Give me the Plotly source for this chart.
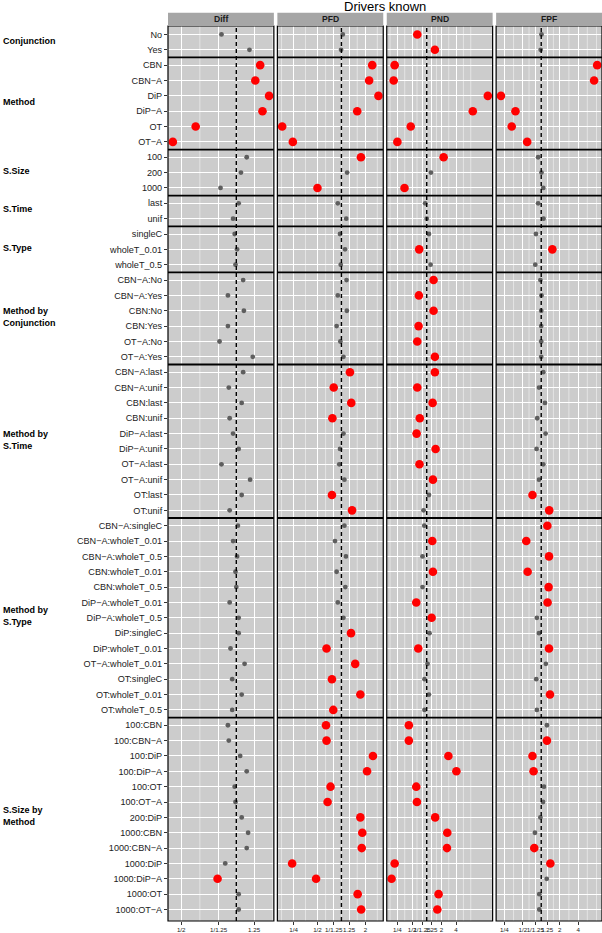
import math
import plotly.graph_objects as go
from plotly.subplots import make_subplots

title = "Drivers known"
panels = ["Diff", "PFD", "PND", "FPF"]

row_labels = [
    "No", "Yes",
    "CBN", "CBN−A", "DiP", "DiP−A", "OT", "OT−A",
    "100", "200", "1000",
    "last", "unif",
    "singleC", "wholeT_0.01", "wholeT_0.5",
    "CBN−A:No", "CBN−A:Yes", "CBN:No", "CBN:Yes", "OT−A:No", "OT−A:Yes",
    "CBN−A:last", "CBN−A:unif", "CBN:last", "CBN:unif", "DiP−A:last", "DiP−A:unif",
    "OT−A:last", "OT−A:unif", "OT:last", "OT:unif",
    "CBN−A:singleC", "CBN−A:wholeT_0.01", "CBN−A:wholeT_0.5", "CBN:wholeT_0.01",
    "CBN:wholeT_0.5", "DiP−A:wholeT_0.01", "DiP−A:wholeT_0.5", "DiP:singleC",
    "DiP:wholeT_0.01", "OT−A:wholeT_0.01", "OT:singleC", "OT:wholeT_0.01", "OT:wholeT_0.5",
    "100:CBN", "100:CBN−A", "100:DiP", "100:DiP−A", "100:OT", "100:OT−A", "200:DiP",
    "1000:CBN", "1000:CBN−A", "1000:DiP", "1000:DiP−A", "1000:OT", "1000:OT−A",
]

group_names = ["Conjunction", "Method", "S.Size", "S.Time", "S.Type",
               "Method by<br>Conjunction", "Method by<br>S.Time",
               "Method by<br>S.Type", "S.Size by<br>Method"]
group_sizes = [2, 6, 3, 2, 3, 6, 10, 13, 13]

diff_vals = [0.83, 1.18, 1.35, 1.27, 1.51, 1.39, 0.60, 0.45, 1.14, 1.06, 0.82,
             1.03, 0.96, 0.98, 1.01, 0.99,
             1.09, 0.90, 1.10, 0.90, 0.81, 1.23,
             1.09, 0.91, 1.07, 0.92, 0.96, 1.03, 0.83, 1.19, 1.07, 0.92,
             1.02, 0.96, 1.01, 0.99, 1.00, 0.92, 1.03, 1.03, 0.93, 1.11, 0.95, 1.07, 0.95,
             0.90, 0.91, 1.05, 1.14, 0.98, 0.99, 1.07, 1.16, 1.14, 0.87, 0.79, 1.03, 1.03]
diff_sig = [0, 0, 1, 1, 1, 1, 1, 1, 0, 0, 0,
            0, 0, 0, 0, 0,
            0, 0, 0, 0, 0, 0,
            0, 0, 0, 0, 0, 0, 0, 0, 0, 0,
            0, 0, 0, 0, 0, 0, 0, 0, 0, 0, 0, 0, 0,
            0, 0, 0, 0, 0, 0, 0, 0, 0, 0, 1, 0, 0]

pfd_vals = [1.04, 0.99, 2.44, 2.23, 2.92, 1.58, 0.18, 0.245, 1.76, 1.18, 0.50,
            0.90, 1.15, 0.96, 1.11, 0.98,
            1.16, 0.90, 1.17, 0.87, 0.97, 1.06,
            1.28, 0.80, 1.33, 0.77, 1.06, 0.96, 0.94, 1.09, 0.76, 1.36,
            1.09, 0.83, 1.14, 0.87, 1.12, 0.90, 1.06, 1.32, 0.65, 1.49, 0.76, 1.73, 0.79,
            0.64, 0.65, 2.49, 2.10, 0.73, 0.67, 1.73, 1.83, 1.80, 0.24, 0.48, 1.60, 1.77]
pfd_sig = [0, 0, 1, 1, 1, 1, 1, 1, 1, 0, 1,
           0, 0, 0, 0, 0,
           0, 0, 0, 0, 0, 0,
           1, 1, 1, 1, 0, 0, 0, 0, 1, 1,
           0, 0, 0, 0, 0, 0, 0, 1, 1, 1, 1, 1, 1,
           1, 1, 1, 1, 1, 1, 1, 1, 1, 1, 1, 1, 1]

pnd_vals = [0.64, 1.47, 0.22, 0.21, 17.9, 8.8, 0.47, 0.25, 2.22, 1.22, 0.35,
            0.93, 1.00, 1.11, 0.70, 1.20,
            1.38, 0.69, 1.38, 0.68, 0.64, 1.47,
            1.47, 0.64, 1.32, 0.72, 0.62, 1.52, 0.71, 1.34, 1.11, 0.86,
            0.89, 1.30, 0.82, 1.34, 0.82, 0.61, 1.26, 1.14, 0.67, 1.04, 0.90, 1.11, 0.90,
            0.43, 0.43, 2.78, 4.06, 0.61, 0.63, 1.49, 2.64, 2.60, 0.22, 0.19, 1.75, 1.65]
pnd_sig = [1, 1, 1, 1, 1, 1, 1, 1, 1, 0, 1,
           0, 0, 0, 1, 0,
           1, 1, 1, 1, 1, 1,
           1, 1, 1, 1, 1, 1, 1, 1, 0, 0,
           0, 1, 0, 1, 0, 1, 1, 0, 1, 0, 0, 0, 0,
           1, 1, 1, 1, 1, 1, 1, 1, 1, 1, 1, 1, 1]

fpf_vals = [1.01, 0.98, 8.2, 7.3, 0.22, 0.38, 0.33, 0.59, 0.89, 1.01, 1.08,
            0.89, 1.09, 0.82, 1.52, 0.80,
            0.97, 1.01, 1.00, 1.00, 1.00, 1.00,
            1.08, 0.92, 1.15, 0.86, 1.18, 0.84, 1.08, 0.92, 0.72, 1.35,
            1.26, 0.57, 1.34, 0.60, 1.32, 1.27, 0.85, 0.92, 1.34, 1.19, 0.83, 1.39, 0.85,
            1.24, 1.24, 0.72, 0.75, 1.11, 1.07, 0.97, 0.79, 0.77, 1.41, 1.23, 0.93, 0.93]
fpf_sig = [0, 0, 1, 1, 1, 1, 1, 1, 0, 0, 0,
           0, 0, 0, 1, 0,
           0, 0, 0, 0, 0, 0,
           0, 0, 0, 0, 0, 0, 0, 0, 1, 1,
           1, 1, 1, 1, 1, 1, 0, 0, 1, 0, 0, 1, 0,
           0, 1, 1, 1, 0, 0, 0, 0, 1, 1, 0, 0, 0]

tick_vals = [0.25, 0.5, 0.8, 1.25, 2, 4]
tick_text = ["1/4", "1/2", "1/1.25", "1.25", "2", "4"]

series = [(diff_vals, diff_sig), (pfd_vals, pfd_sig), (pnd_vals, pnd_sig), (fpf_vals, fpf_sig)]

# ---- layout geometry ----
W, H = 602, 933
ML, MR, MT, MB = 168, 0, 26, 12
PW = W - ML - MR
PH = H - MT - MB
GAP = 3.5
panel_w = (PW - 3 * GAP) / 4
FONT = "Liberation Sans, Arial, Helvetica, sans-serif"
PANEL_BG = "#cccccc"
STRIP_BG = "#a6a6a6"

fig = make_subplots(rows=1, cols=4, shared_yaxes=True, horizontal_spacing=0.01)


def axis_range(vals):
    lo = math.log10(min(vals))
    hi = math.log10(max(vals))
    pad = 0.05 * (hi - lo)
    return lo - pad, hi + pad


def minor_vals(lo, hi):
    b = [math.log10(v) for v in tick_vals if lo <= math.log10(v) <= hi]
    bd = b[1] - b[0]
    if lo < b[0]:
        b = [b[0] - bd] + b
    if hi > b[-1]:
        b = b + [b[-1] + bd]
    mids = [(b[i] + b[i + 1]) / 2 for i in range(len(b) - 1)]
    majors = [math.log10(v) for v in tick_vals]
    out = []
    for v in mids + b:
        if lo <= v <= hi and all(abs(v - m) > 1e-6 for m in majors):
            out.append(10 ** v)
    return sorted(out)


shapes = []
annotations = []
bounds = []
acc = 0
for s in group_sizes[:-1]:
    acc += s
    bounds.append(acc - 0.5)

for i, (name, (vals, sig)) in enumerate(zip(panels, series)):
    col = i + 1
    suf = "" if i == 0 else str(col)
    lo, hi = axis_range(vals)

    # minor grid lines
    for mv in minor_vals(lo, hi):
        shapes.append(dict(type="line", xref="x" + suf, yref="y" + suf + " domain",
                           x0=mv, x1=mv, y0=0, y1=1, layer="below",
                           line=dict(color="rgba(255,255,255,0.8)", width=0.6)))
    # reference line at ratio 1
    shapes.append(dict(type="line", xref="x" + suf, yref="y" + suf + " domain",
                       x0=1, x1=1, y0=0, y1=1, layer="above",
                       line=dict(color="black", width=1.4, dash="4px,3px")))

    ys_g = [row_labels[k] for k in range(len(vals)) if not sig[k]]
    xs_g = [vals[k] for k in range(len(vals)) if not sig[k]]
    ys_r = [row_labels[k] for k in range(len(vals)) if sig[k]]
    xs_r = [vals[k] for k in range(len(vals)) if sig[k]]
    fig.add_trace(go.Scatter(x=xs_g, y=ys_g, mode="markers", showlegend=False,
                             marker=dict(color="#5e5e5e", size=4.8, line=dict(width=0)),
                             hoverinfo="x+y"), row=1, col=col)
    fig.add_trace(go.Scatter(x=xs_r, y=ys_r, mode="markers", showlegend=False,
                             marker=dict(color="#ff0000", size=8.6, line=dict(width=0)),
                             hoverinfo="x+y"), row=1, col=col)

    tv = [v for v in tick_vals if lo <= math.log10(v) <= hi]
    tt = [t for v, t in zip(tick_vals, tick_text) if lo <= math.log10(v) <= hi]
    x0 = i * (panel_w + GAP) / PW
    x1 = (i * (panel_w + GAP) + panel_w) / PW
    fig.update_xaxes(
        type="log", range=[lo, hi], domain=[x0, x1],
        tickmode="array", tickvals=tv, ticktext=tt, tickangle=0,
        tickfont=dict(size=6.2, color="#222", family=FONT),
        ticks="outside", ticklen=3, tickwidth=1, tickcolor="#333",
        showgrid=True, gridcolor="white", gridwidth=1.1,
        zeroline=False, showline=False, automargin=False,
        row=1, col=col,
    )

    # group separators
    for b in bounds:
        shapes.append(dict(type="line", xref="x" + suf + " domain", yref="y" + suf,
                           x0=0, x1=1, y0=b, y1=b, layer="above",
                           line=dict(color="black", width=1.8)))
    # panel border
    shapes.append(dict(type="rect", xref="x" + suf + " domain", yref="y" + suf + " domain",
                       x0=0, x1=1, y0=0, y1=1, layer="above",
                       line=dict(color="black", width=1.2)))
    # strip
    shapes.append(dict(type="rect", xref="x" + suf + " domain", yref="paper",
                       x0=0, x1=1, y0=1.0, y1=1 + 13.3 / PH, layer="above",
                       fillcolor=STRIP_BG, line=dict(width=0)))
    annotations.append(dict(text="<b>" + name + "</b>", xref="x" + suf + " domain", yref="paper",
                            x=0.5, y=1 + 6.8 / PH, xanchor="center", yanchor="middle",
                            showarrow=False, font=dict(size=8.6, color="#1a1a1a", family=FONT)))

n_rows = len(row_labels)
fig.update_yaxes(
    type="category", categoryorder="array", categoryarray=row_labels,
    range=[n_rows - 1 + 0.75, -0.55],
    showgrid=True, gridcolor="white", gridwidth=1.1,
    zeroline=False, showline=False, automargin=False,
)
fig.update_yaxes(
    ticks="outside", ticklen=3, tickwidth=1, tickcolor="#333",
    tickfont=dict(size=9.1, color="#222", family=FONT),
    row=1, col=1,
)

# group labels on the far left
start = 0
for gname, gsize in zip(group_names, group_sizes):
    center = start + (gsize - 1) / 2 - 0.1
    annotations.append(dict(text="<b>" + gname + "</b>", xref="paper", yref="y",
                            x=-(ML - 0.5) / PW, y=center, xanchor="left", yanchor="middle",
                            align="left", showarrow=False,
                            font=dict(size=9, color="black", family=FONT)))
    start += gsize

annotations.append(dict(text=title, xref="paper", yref="paper", x=0.5, y=1 + 19.5 / PH,
                        xanchor="center", yanchor="middle", showarrow=False,
                        font=dict(size=13, color="black", family=FONT)))

fig.update_layout(
    width=W, height=H,
    margin=dict(l=ML, r=MR, t=MT, b=MB, pad=0, autoexpand=False),
    plot_bgcolor=PANEL_BG, paper_bgcolor="white",
    font=dict(family=FONT, color="black"),
    shapes=shapes, annotations=annotations,
    showlegend=False,
)

fig.write_html(
    "out.html",
    config={"displayModeBar": False},
    post_script="document.body.style.margin='0';document.body.style.padding='0';"
                "document.body.style.overflow='hidden';"
                "document.documentElement.style.overflow='hidden';",
)
